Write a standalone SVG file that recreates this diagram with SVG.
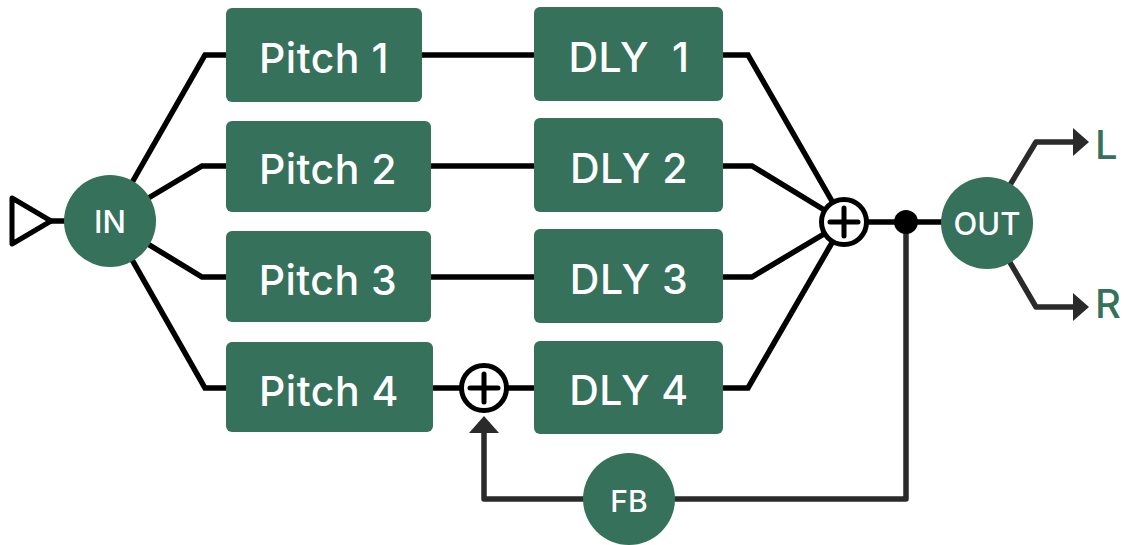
<svg xmlns="http://www.w3.org/2000/svg" width="1124" height="545" viewBox="0 0 1124 545">
<style>
.box{fill:#35715B;}
.node{fill:#35715B;}
.lbl{font-family:Inter,"Open Sans","Liberation Sans",sans-serif;font-weight:500;fill:#ffffff;text-anchor:middle;white-space:pre;}
.big{font-size:41px;letter-spacing:0.5px;}
.sm{font-size:31px;}
.wire{fill:none;stroke:#000;stroke-width:5.5;stroke-linejoin:miter;}
.fb{fill:none;stroke:#2a2a2a;stroke-width:5.5;stroke-linejoin:round;}
.sum{fill:#fff;stroke:#000;stroke-width:5;}
.plus{stroke:#000;stroke-width:5;stroke-linecap:round;}
.io{font-family:Inter,"Open Sans","Liberation Sans",sans-serif;font-weight:500;font-size:40px;fill:#35715B;}
</style>
<g id="connectors">
<polygon points="12,198 51,221 12,244" fill="#fff" stroke="#000" stroke-width="5" stroke-linejoin="round"/>
<path class="wire" d="M51,221 L110,221"/>
<path class="wire" d="M110,221 L205,55 L226,55"/>
<path class="wire" d="M110,221 L202,166 L226,166"/>
<path class="wire" d="M110,221 L202,277 L226,277"/>
<path class="wire" d="M110,221 L205,388 L226,388"/>
<path class="wire" d="M422,55 L534,55"/>
<path class="wire" d="M431,166 L534,166"/>
<path class="wire" d="M431,277 L534,277"/>
<path class="wire" d="M433,388 L534,388"/>
<path class="wire" d="M723,55 L748,55 L844,222"/>
<path class="wire" d="M723,166 L752,166 L844,222"/>
<path class="wire" d="M723,277 L752,277 L844,222"/>
<path class="wire" d="M723,388 L748,388 L844,222"/>
<path class="wire" d="M844,222 L987,222"/>
<path class="fb" d="M906,222 L906,499 L484,499 L484,430"/>
<polygon points="484,416 499,433 469,433" fill="#2a2a2a"/>
<path class="fb" d="M987,223 L1036,142 L1076,142"/>
<polygon points="1089,142 1073,128 1073,156" fill="#2a2a2a"/>
<path class="fb" d="M987,223 L1036,307 L1076,307"/>
<polygon points="1089,307 1073,293 1073,321" fill="#2a2a2a"/>
<circle cx="906" cy="222" r="12" fill="#000"/>
</g>
<g id="in">
<circle class="node" cx="110" cy="221" r="46"/>
<text class="lbl sm" x="110" y="233">IN</text>
</g>
<g id="pitch1">
<rect class="box" x="226" y="8" width="196" height="94" rx="6"/>
<text class="lbl big" x="324" y="73">Pitch 1</text>
</g>
<g id="pitch2">
<rect class="box" x="226" y="121" width="205" height="91" rx="6"/>
<text class="lbl big" x="328" y="184">Pitch 2</text>
</g>
<g id="pitch3">
<rect class="box" x="226" y="231" width="205" height="91" rx="6"/>
<text class="lbl big" x="328" y="295">Pitch 3</text>
</g>
<g id="pitch4">
<rect class="box" x="226" y="342" width="207" height="90" rx="6"/>
<text class="lbl big" x="329" y="406">Pitch 4</text>
</g>
<g id="dly1">
<rect class="box" x="534" y="7" width="189" height="94" rx="6"/>
<text class="lbl big" x="629" y="72">DLY  1</text>
</g>
<g id="dly2">
<rect class="box" x="534" y="118" width="189" height="94" rx="6"/>
<text class="lbl big" x="629" y="183">DLY 2</text>
</g>
<g id="dly3">
<rect class="box" x="534" y="229" width="189" height="94" rx="6"/>
<text class="lbl big" x="629" y="294">DLY 3</text>
</g>
<g id="dly4">
<rect class="box" x="534" y="341" width="189" height="93" rx="6"/>
<text class="lbl big" x="629" y="405">DLY 4</text>
</g>
<g id="sum4">
<circle class="sum" cx="484" cy="388" r="22.5"/>
<line class="plus" x1="470" y1="388" x2="498" y2="388"/>
<line class="plus" x1="484" y1="374" x2="484" y2="402"/>
</g>
<g id="summain">
<circle class="sum" cx="844" cy="222" r="22.5"/>
<line class="plus" x1="830" y1="222" x2="858" y2="222"/>
<line class="plus" x1="844" y1="208" x2="844" y2="236"/>
</g>
<g id="out">
<circle class="node" cx="987" cy="223" r="46"/>
<text class="lbl sm" x="987" y="235">OUT</text>
</g>
<g id="fbnode">
<circle class="node" cx="629" cy="499" r="46"/>
<text class="lbl" x="629" y="512" style="font-size:30px">FB</text>
</g>
<g id="outputs">
<text class="io" x="1095" y="159">L</text>
<text class="io" x="1095" y="318">R</text>
</g>
</svg>
